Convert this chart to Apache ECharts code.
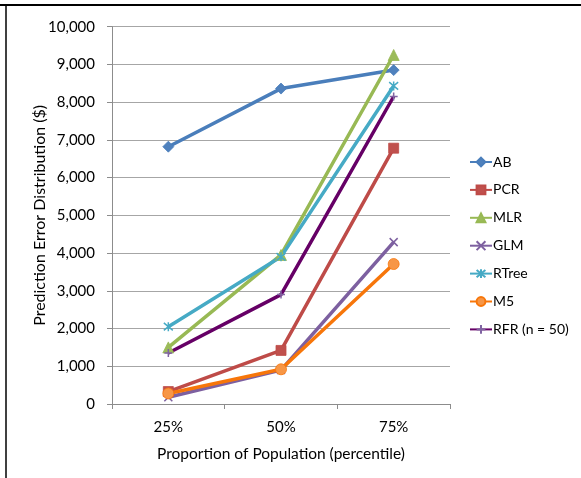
<!DOCTYPE html>
<html>
<head>
<meta charset="utf-8">
<script src="https://cdn.jsdelivr.net/npm/echarts@6/dist/echarts.min.js"></script>
<style>
  html, body { margin: 0; padding: 0; background: #fff; }
  #chart { width: 581px; height: 478px; }
</style>
</head>
<body>
<div id="chart"></div>
<script>
// Percentile groups on the x axis
const categories = ['25%', '50%', '75%'];

// Prediction error distribution ($) per model
const AB    = [6820, 8360, 8850];
const PCR   = [330, 1420, 6780];
const MLR   = [1500, 3950, 9250];
const GLM   = [180, 900, 4290];
const RTree = [2050, 3900, 8430];
const M5    = [280, 920, 3710];
const RFR   = [1350, 2900, 8150];

const FONT = 'Lato, "Open Sans", sans-serif';

// Marker shapes
const crossPath = 'path://M0,0L10,10M10,0L0,10';
const starPath = 'path://M0,0L10,10M10,0L0,10M5,-1L5,11';
const plusPath = 'path://M0,5L10,5M5,0L5,10';

function series(name, data, lineColor, markColor, symbol, size, stroked) {
  return {
    name: name,
    type: 'line',
    data: data,
    symbol: symbol,
    symbolSize: size,
    lineStyle: { color: lineColor, width: 3.5 },
    itemStyle: stroked
      ? { color: 'rgba(0,0,0,0)', borderColor: markColor, borderWidth: 1.5 }
      : { color: markColor, borderColor: lineColor, borderWidth: 0.8 },
    emphasis: { disabled: true },
    z: 3
  };
}

const chart = echarts.init(document.getElementById('chart'), null, { renderer: 'canvas' });

chart.setOption({
  animation: false,
  backgroundColor: '#fff',
  grid: { left: 112, right: 131, top: 26.7, bottom: 74, containLabel: false },
  graphic: [
    { type: 'line', shape: { x1: 0, y1: 5, x2: 581, y2: 5 }, style: { stroke: '#000', lineWidth: 2 } },
    { type: 'line', shape: { x1: 6, y1: 4, x2: 6, y2: 478 }, style: { stroke: '#000', lineWidth: 1.5 } }
  ],
  legend: {
    orient: 'vertical',
    left: 464,
    top: 150,
    itemWidth: 22,
    itemHeight: 11,
    itemGap: 13.9,
    textStyle: { fontFamily: FONT, fontSize: 14, color: '#000', padding: [0, 0, 0, -4] },
    data: ['AB', 'PCR', 'MLR', 'GLM', 'RTree', 'M5', 'RFR (n = 50)']
  },
  xAxis: {
    type: 'category',
    data: categories,
    boundaryGap: true,
    name: 'Proportion of Population (percentile)',
    nameLocation: 'middle',
    nameGap: 42,
    nameTextStyle: { fontFamily: FONT, fontSize: 15.5, color: '#000' },
    axisLine: { lineStyle: { color: '#8c8c8c', width: 1 } },
    axisTick: { show: true, length: 5, lineStyle: { color: '#8c8c8c' } },
    axisLabel: { fontFamily: FONT, fontSize: 15, color: '#000', margin: 16 },
    splitLine: { show: false }
  },
  yAxis: {
    type: 'value',
    min: 0,
    max: 10000,
    interval: 1000,
    name: 'Prediction Error Distribution ($)',
    nameLocation: 'middle',
    nameGap: 64,
    nameMoveOverlap: false,
    nameRotate: 90,
    nameTextStyle: { fontFamily: FONT, fontSize: 16, color: '#000' },
    axisLine: { show: true, lineStyle: { color: '#8c8c8c', width: 1 } },
    axisTick: { show: true, length: 5, inside: false, lineStyle: { color: '#8c8c8c' } },
    axisLabel: {
      fontFamily: FONT, fontSize: 15, color: '#000', margin: 17,
      formatter: v => v.toLocaleString('en-US')
    },
    splitLine: { show: true, lineStyle: { color: '#a6a6a6', width: 1 } }
  },
  series: [
    series('AB', AB, '#4A7EBB', '#4F81BD', 'diamond', 11, false),
    series('PCR', PCR, '#BE4B48', '#C0504D', 'rect', 10, false),
    series('MLR', MLR, '#98B954', '#9BBB59', 'triangle', 11, false),
    series('GLM', GLM, '#7D60A0', '#7D60A0', crossPath, 8, true),
    series('RTree', RTree, '#46AAC5', '#46AAC5', starPath, 9, true),
    series('M5', M5, '#F7760A', '#F79646', 'circle', 11, false),
    series('RFR (n = 50)', RFR, '#660066', '#8064A2', plusPath, 8, true)
  ]
});
</script>
</body>
</html>
